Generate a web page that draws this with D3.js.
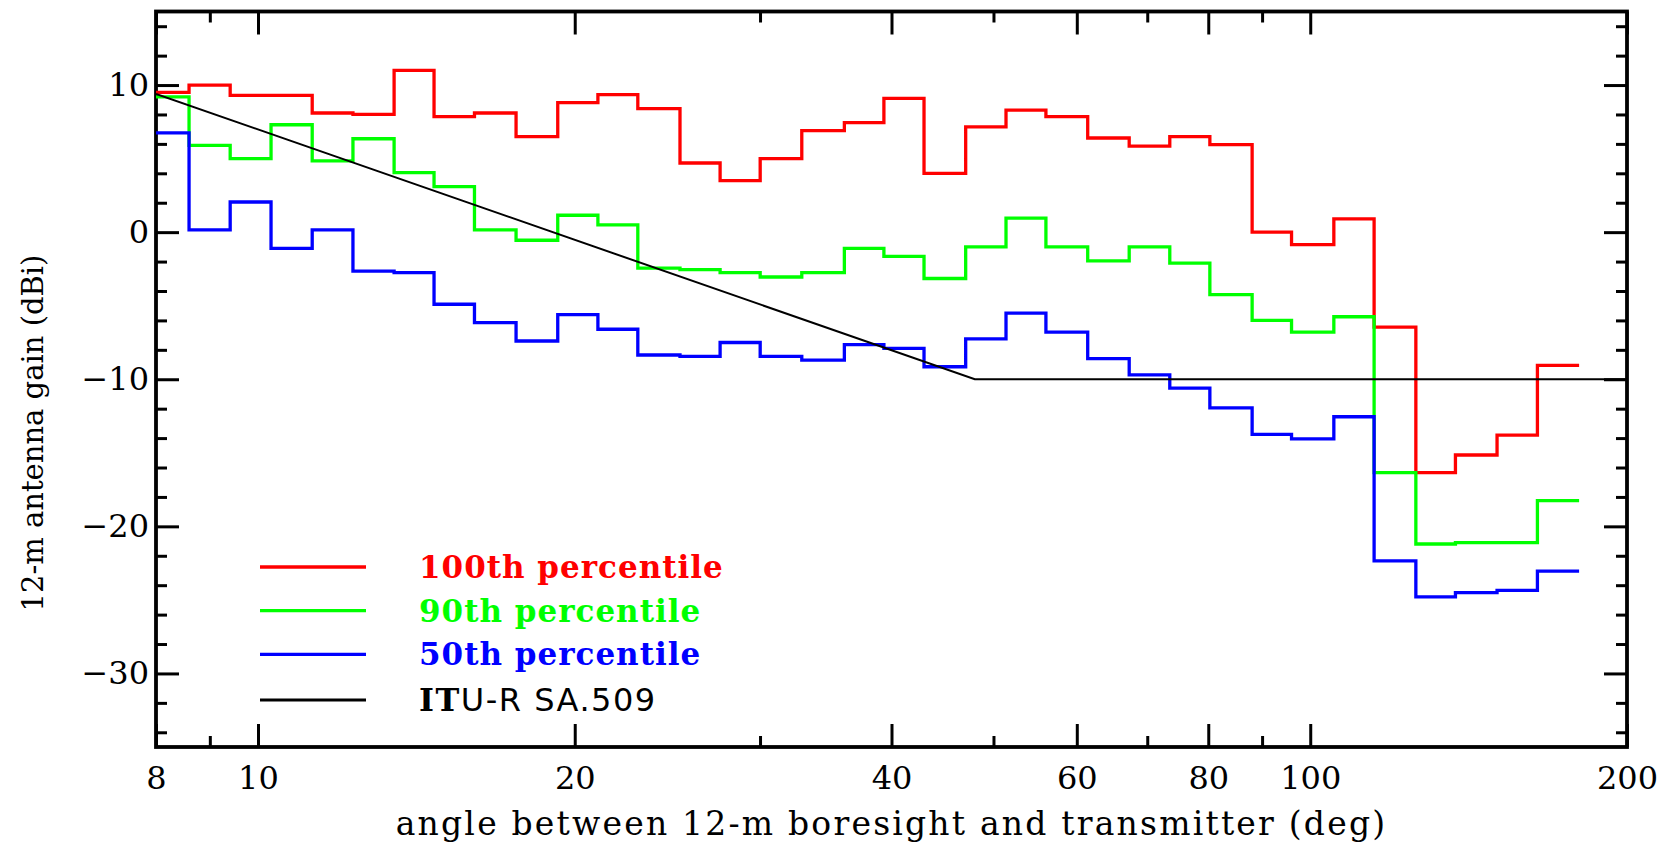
<!DOCTYPE html>
<html>
<head>
<meta charset="utf-8">
<script src="https://cdn.jsdelivr.net/npm/d3@7"></script>
<style>
    body { margin: 0; background: #fff; }
    svg { display: block; }
    text { font-family: "DejaVu Serif", serif; }
</style>
</head>
<body>
<svg id="chart" width="1671" height="842"></svg>
<script>
'use strict';

// bin edges along the angle axis (deg)
const binEdges = [8, 8.60, 9.41, 10.29, 11.26, 12.31, 13.47, 14.70, 16.06, 17.59,
    19.27, 21.04, 22.96, 25.18, 27.49, 30.01, 32.87, 36.08, 39.34, 42.95,
    47.05, 51.39, 56.08, 61.45, 67.29, 73.54, 80.28, 88.06, 95.99, 105.3,
    115.0, 126.0, 137.4, 150.5, 164.4, 180.1];

// gain per bin (dBi)
const gain100 = [9.5, 10.0, 9.3, 9.3, 8.1, 8.0, 11.0, 7.85, 8.1, 6.5,
    8.8, 9.35, 8.4, 4.7, 3.5, 5.0, 6.9, 7.45, 9.1, 4.0,
    7.15, 8.3, 7.85, 6.4, 5.85, 6.5, 5.95, 0.0, -0.85, 0.9,
    -6.45, -16.35, -15.15, -13.8, -9.05];
const gain90 = [9.2, 5.9, 5.0, 7.3, 4.85, 6.35, 4.05, 3.1, 0.15, -0.55,
    1.15, 0.5, -2.45, -2.55, -2.75, -3.05, -2.75, -1.1, -1.65, -3.15,
    -1.0, 0.95, -1.0, -1.95, -1.0, -2.1, -4.25, -6.0, -6.8, -5.75,
    -16.35, -21.2, -21.1, -21.1, -18.25];
const gain50 = [6.75, 0.15, 2.05, -1.1, 0.15, -2.65, -2.75, -4.9, -6.15, -7.4,
    -5.6, -6.6, -8.35, -8.45, -7.5, -8.45, -8.7, -7.65, -7.9, -9.15,
    -7.25, -5.5, -6.8, -8.6, -9.7, -10.6, -11.95, -13.75, -14.05, -12.55,
    -22.35, -24.8, -24.5, -24.35, -23.05];

// ITU-R SA.509 reference pattern
const ituAngles = [8, 48, 200];
const ituGain = [9.4, -10, -10];

const seriesNames = ['100th percentile', '90th percentile', '50th percentile', 'ITU-R SA.509'];
const seriesColors = ['#ff0000', '#00ff00', '#0000ff', '#000000'];

const xTickLabels = [8, 10, 20, 40, 60, 80, 100, 200];
const xMinorTicks = [9, 30, 50, 70, 90];
const yTickLabels = [10, 0, -10, -20, -30];
const yMinorTicks = [14, 12, 8, 6, 4, 2, -2, -4, -6, -8, -12, -14, -16, -18,
    -22, -24, -26, -28, -32, -34];

const svg = d3.select('#chart');
const plotLeft = 156, plotRight = 1627, plotTop = 11.5, plotBottom = 747;

const x = d3.scaleLog().domain([8, 200]).range([plotLeft, plotRight]);
const y = d3.scaleLinear().domain([-35, 15]).range([plotBottom, plotTop]);

const fmt = (d) => d < 0 ? '\u2212' + Math.abs(d) : String(d);

function axis(gen, pos, values, size, labels, pad) {
    const g = svg.append('g')
        .attr('transform', pos)
        .call(gen.tickValues(values).tickSize(-size).tickPadding(pad || 10)
            .tickFormat(labels ? fmt : ''));
    g.select('.domain').remove();
    g.selectAll('.tick line').attr('stroke', '#000').attr('stroke-width', 3);
    g.selectAll('.tick text')
        .attr('font-family', '"DejaVu Serif", serif')
        .attr('font-size', 32)
        .attr('fill', '#000');
    return g;
}

// bottom / top
axis(d3.axisBottom(x), `translate(0,${plotBottom})`, xTickLabels, 23, true, 19);
axis(d3.axisBottom(x), `translate(0,${plotBottom})`, xMinorTicks, 11, false);
axis(d3.axisTop(x), `translate(0,${plotTop})`, xTickLabels, 23, false);
axis(d3.axisTop(x), `translate(0,${plotTop})`, xMinorTicks, 11, false);
// left / right
axis(d3.axisLeft(y), `translate(${plotLeft},0)`, yTickLabels, 23, true, 7);
axis(d3.axisLeft(y), `translate(${plotLeft},0)`, yMinorTicks, 11, false);
axis(d3.axisRight(y), `translate(${plotRight},0)`, yTickLabels, 23, false);
axis(d3.axisRight(y), `translate(${plotRight},0)`, yMinorTicks, 11, false);

// frame
svg.append('rect')
    .attr('x', plotLeft).attr('y', plotTop)
    .attr('width', plotRight - plotLeft).attr('height', plotBottom - plotTop)
    .attr('fill', 'none').attr('stroke', '#000').attr('stroke-width', 3.8);

svg.append('clipPath').attr('id', 'plot-clip')
    .append('rect')
    .attr('x', plotLeft).attr('y', plotTop)
    .attr('width', plotRight - plotLeft).attr('height', plotBottom - plotTop);

const step = d3.line()
    .x((d) => x(d[0]))
    .y((d) => y(d[1]))
    .curve(d3.curveStepAfter);

const stepPoints = (vals) => binEdges.map((e, i) => [e, vals[Math.min(i, vals.length - 1)]]);

const plot = svg.append('g').attr('clip-path', 'url(#plot-clip)');

[gain100, gain90, gain50].forEach((vals, i) => {
    plot.append('path')
        .datum(stepPoints(vals))
        .attr('d', step)
        .attr('fill', 'none')
        .attr('stroke', seriesColors[i])
        .attr('stroke-width', 3.3);
});

plot.append('path')
    .datum(ituAngles.map((a, i) => [a, ituGain[i]]))
    .attr('d', d3.line().x((d) => x(d[0])).y((d) => y(d[1])))
    .attr('fill', 'none')
    .attr('stroke', '#000')
    .attr('stroke-width', 2);

// legend
const legend = svg.append('g').attr('transform', 'translate(260,567)');
const rows = [0, 43.6, 87.3, 133];
seriesNames.forEach((name, i) => {
    const row = legend.append('g').attr('transform', `translate(0,${rows[i]})`);
    row.append('line')
        .attr('x1', 0).attr('x2', 106)
        .attr('stroke', seriesColors[i])
        .attr('stroke-width', i < 3 ? 3.3 : 3);
    const t = row.append('text')
        .attr('x', 159).attr('y', 11)
        .attr('fill', seriesColors[i]);
    if (i < 3) {
        t.attr('font-weight', 'bold')
            .attr('font-size', 31)
            .attr('letter-spacing', 1)
            .text(name);
    } else {
        t.attr('font-size', 32).attr('letter-spacing', 1.5);
        t.append('tspan').attr('font-weight', 'bold').text(name.slice(0, 2));
        t.append('tspan').attr('font-family', '"DejaVu Sans", sans-serif').text(name.slice(2));
    }
});

// axis titles
svg.append('text')
    .attr('x', (plotLeft + plotRight) / 2)
    .attr('y', 835)
    .attr('text-anchor', 'middle')
    .attr('font-size', 33)
    .attr('letter-spacing', 2.2)
    .attr('fill', '#000')
    .text('angle between 12-m boresight and transmitter (deg)');

svg.append('text')
    .attr('transform', 'translate(43,433) rotate(-90)')
    .attr('text-anchor', 'middle')
    .attr('font-size', 29)
    .attr('fill', '#000')
    .text('12-m antenna gain (dBi)');
</script>
</body>
</html>
